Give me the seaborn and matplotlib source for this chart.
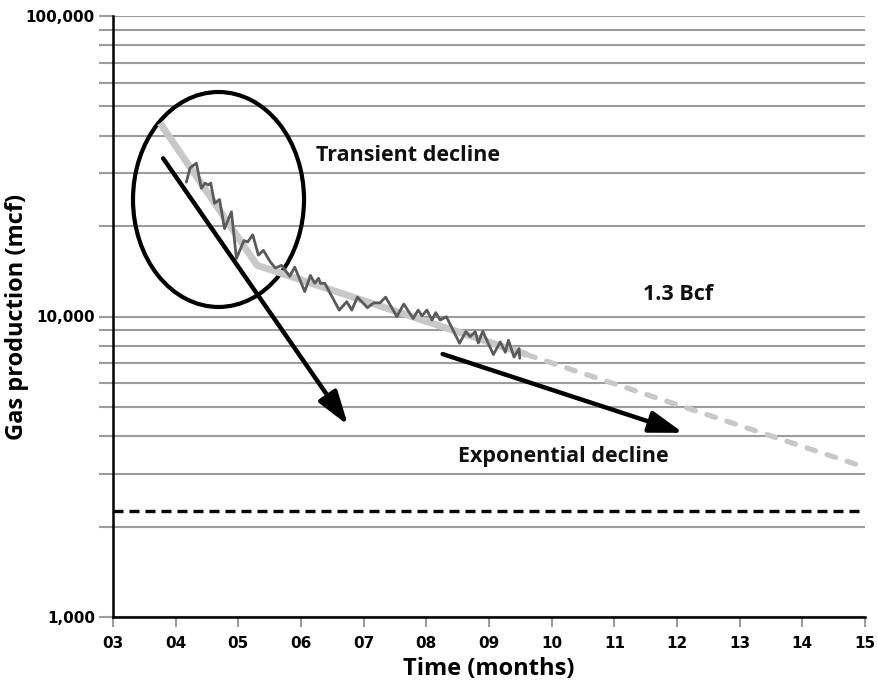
import matplotlib
matplotlib.use("Agg")
import matplotlib.pyplot as plt
import seaborn as sns
from matplotlib.patches import Ellipse
from matplotlib.ticker import FixedLocator, FixedFormatter, NullFormatter, LogLocator

# Daily well production (mcf) by month on stream
month = [4.17, 4.23, 4.33, 4.41, 4.47, 4.52, 4.56, 4.62, 4.70, 4.78,
         4.89, 4.97, 5.09, 5.15, 5.23, 5.32, 5.40, 5.51, 5.59, 5.69,
         5.82, 5.90, 6.06, 6.15, 6.22, 6.28, 6.31, 6.38, 6.61, 6.73,
         6.81, 6.90, 7.06, 7.16, 7.26, 7.35, 7.53, 7.64, 7.79, 7.87,
         7.93, 8.01, 8.09, 8.15, 8.22, 8.32, 8.53, 8.63, 8.70, 8.78,
         8.83, 8.90, 9.07, 9.18, 9.26, 9.31, 9.40, 9.48, 9.49]
gas_mcf = [28000, 31200, 32400, 26700, 27800, 27400, 27800, 23800, 24500, 19600,
           22300, 15600, 17900, 17700, 18700, 16000, 16600, 15200, 14500, 14800,
           13600, 14600, 12100, 13700, 12900, 13400, 12900, 12900, 10500, 11200,
           10500, 11600, 10700, 11100, 11100, 11600, 10000, 11000, 9850, 10500,
           10050, 10500, 9730, 10300, 9730, 9980, 8150, 8900, 8570, 8900,
           8170, 8930, 7470, 8230, 7600, 8340, 7330, 7820, 7260]

# Fitted decline curve (transient then exponential) and its forecast
trend_month = [3.75, 5.3, 9.6]
trend_mcf = [44000, 14800, 7470]
forecast_month = [9.6, 15.0]
forecast_mcf = [7470, 3150]

# Economic limit
limit_mcf = 2260

x_ticks = list(range(3, 16))
x_tick_labels = [f"{m:02d}" for m in x_ticks]
y_ticks = [1000, 10000, 100000]
y_tick_labels = ["1,000", "10,000", "100,000"]

sns.set_theme(style="white")
plt.rcParams["font.family"] = ["DejaVu Sans"]

W, H = 879, 691
fig = plt.figure(figsize=(W / 100, H / 100), dpi=100)
ax = fig.add_axes([113 / W, 1 - 617 / H, 752 / W, 601 / H])

ax.set_yscale("log")
ax.set_xlim(3, 15)
ax.set_ylim(1000, 100000)

grid_c = "#9c9c9c"
ax.yaxis.set_major_locator(FixedLocator(y_ticks))
ax.yaxis.set_major_formatter(FixedFormatter(y_tick_labels))
ax.yaxis.set_minor_locator(LogLocator(base=10, subs=range(2, 10)))
ax.yaxis.set_minor_formatter(NullFormatter())
ax.yaxis.grid(True, which="both", color=grid_c, lw=1.5)
ax.xaxis.grid(False)
ax.set_axisbelow(True)
ax.set_xticks(x_ticks)
ax.set_xticklabels(x_tick_labels)

ax.tick_params(axis="y", which="both", left=True, direction="out", length=10,
               width=1.5, color=grid_c, pad=3, labelsize=11)
ax.tick_params(axis="x", which="major", bottom=True, direction="out", length=7,
               width=1.5, color=grid_c, pad=7, labelsize=11)
for lab in ax.get_xticklabels() + ax.get_yticklabels():
    lab.set_fontweight("bold")
    lab.set_color("black")

for side in ("top", "right"):
    ax.spines[side].set_visible(False)
for side in ("left", "bottom"):
    ax.spines[side].set_color("black")
    ax.spines[side].set_linewidth(1.8)

# Fitted curve, forecast and measured production
sns.lineplot(x=trend_month, y=trend_mcf, color="#c8c8c8", lw=5, ax=ax,
             solid_capstyle="butt")
sns.lineplot(x=forecast_month, y=forecast_mcf, color="#c8c8c8", lw=3.8, ax=ax,
             linestyle=(0, (1.7, 2.3)), dash_capstyle="round")
sns.lineplot(x=month, y=gas_mcf, color="#5a5a5a", lw=2, ax=ax, estimator=None)

ax.axhline(limit_mcf, color="black", lw=2.4, linestyle=(0, (3, 1.8)))

# Annotations
ax.add_patch(Ellipse((0.1403, 0.6947), 0.2274, 0.3577, transform=ax.transAxes,
                     fill=False, ec="black", lw=3))

arrow = dict(arrowstyle="-|>,head_length=1.7,head_width=0.55", color="black",
             lw=3.2, shrinkA=0, shrinkB=0)
ax.annotate("", xy=(6.75, 4350), xytext=(3.80, 33600), arrowprops=arrow)
ax.annotate("", xy=(12.10, 4100), xytext=(8.26, 7500), arrowprops=arrow)

txt = dict(fontsize=15.5, fontweight="bold", color="#111111",
           family=["Open Sans", "DejaVu Sans"])
ax.text(6.24, 34400, "Transient decline", ha="left", va="center", **txt)
ax.text(12.02, 11800, "1.3 Bcf", ha="center", va="center", **txt)
ax.text(10.18, 3430, "Exponential decline", ha="center", va="center", **txt)

lab = dict(fontsize=17, fontweight="bold", color="black",
           family=["Open Sans", "DejaVu Sans"])
ax.set_xlabel("Time (months)", labelpad=4, **lab)
ax.set_ylabel("Gas production (mcf)", **lab)
ax.yaxis.set_label_coords(-0.112, 0.5)

fig.savefig("out.png", dpi=100)
